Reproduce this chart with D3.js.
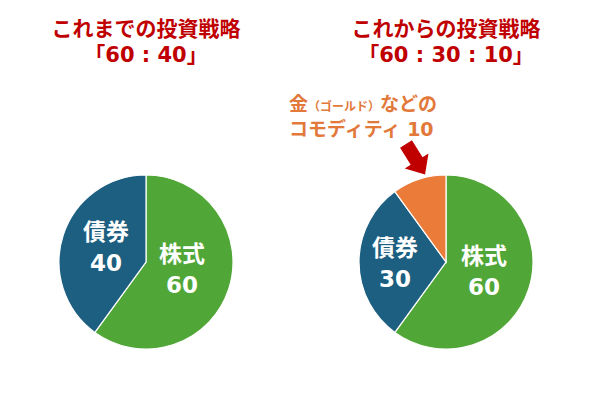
<!DOCTYPE html>
<html>
<head>
<meta charset="utf-8">
<script src="https://cdn.jsdelivr.net/npm/d3@7"></script>
<style>
  body { margin: 0; background: #fff; }
  svg text { font-family: "DejaVu Sans", "Noto Sans CJK JP", sans-serif; font-weight: bold; }
</style>
</head>
<body>
<svg id="chart" width="600" height="393"></svg>
<script>
// Data for the two pies
const oldCategories = ['株式', '債券'];
const oldValues = [60, 40];
const newCategories = ['株式', '債券', 'コモディティ'];
const newValues = [60, 30, 10];

const titles = [
    ['これまでの投資戦略', '「60 : 40」'],
    ['これからの投資戦略', '「60 : 30 : 10」']
];

const colors = { '株式': '#50a737', '債券': '#1d5f80', 'コモディティ': '#ea7b39' };

const svg = d3.select('#chart');
const radius = 87;

const pie = d3.pie().value(d => d).sort(null);
const arc = d3.arc().innerRadius(0).outerRadius(radius);

// Function to draw one pie with its labels
function drawPie(cx, cy, categories, values, labelPos) {
    const g = svg.append('g').attr('transform', `translate(${cx},${cy})`);
    const arcs = pie(values);

    g.selectAll('path')
        .data(arcs)
        .enter().append('path')
        .attr('d', arc)
        .attr('fill', (d, i) => colors[categories[i]])
        .attr('stroke', '#fff')
        .attr('stroke-width', 1.2);

    // labels inside (only the ones with a position)
    arcs.forEach((d, i) => {
        const p = labelPos[i];
        if (!p) return;
        g.append('text')
            .attr('x', p[0]).attr('y', p[1])
            .attr('text-anchor', 'middle')
            .attr('fill', '#fff')
            .style('font-size', '23px')
            .text(categories[i]);
        g.append('text')
            .attr('x', p[0]).attr('y', p[1] + 31)
            .attr('text-anchor', 'middle')
            .attr('fill', '#fff')
            .style('font-size', '23px')
            .text(values[i]);
    });
}

drawPie(146, 262, oldCategories, oldValues, [[36, 0], [-40, -22]]);
drawPie(446, 262, newCategories, newValues, [[38, 2], [-51, -6], null]);

// Titles
[[146, titles[0]], [446, titles[1]]].forEach(([x, lines]) => {
    lines.forEach((t, i) => {
        svg.append('text')
            .attr('x', x).attr('y', 36 + i * 26)
            .attr('text-anchor', 'middle')
            .attr('fill', '#c00000')
            .style('font-size', '21px')
            .text(t);
    });
});

// Commodity callout
const note = svg.append('text')
    .attr('x', 289).attr('y', 111)
    .attr('fill', '#e2793a')
    .style('font-size', '19px');
note.append('tspan').text('金');
note.append('tspan').style('font-size', '12px').text('（ゴールド）');
note.append('tspan').text('などの');

svg.append('text')
    .attr('x', 289).attr('y', 136)
    .attr('fill', '#e2793a')
    .style('font-size', '19px')
    .text('コモディティ ' + newValues[2]);

// Arrow pointing down into the orange slice
svg.append('path')
    .attr('d', 'M0,-7 L20,-7 L20,-14 L36,0 L20,14 L20,7 L0,7 Z')
    .attr('fill', '#c00000')
    .attr('transform', 'translate(406,144) rotate(58)');
</script>
</body>
</html>
